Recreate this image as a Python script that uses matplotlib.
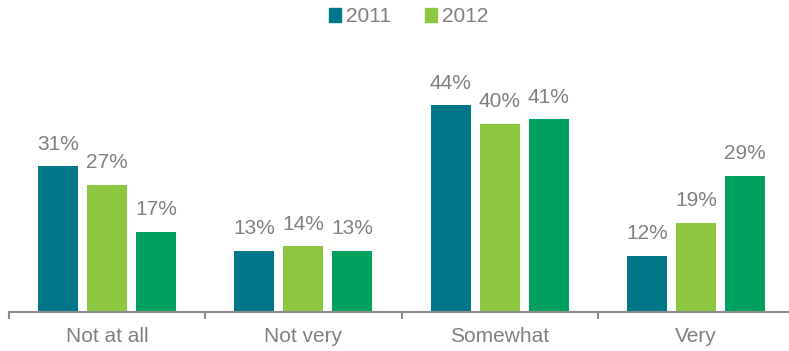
import matplotlib
matplotlib.use("Agg")
import matplotlib.pyplot as plt
from matplotlib.patches import Patch
import numpy as np

categories = ["Not at all", "Not very", "Somewhat", "Very"]
series_names = ["2011", "2012", "2013"]
values_2011 = [31, 13, 44, 12]
values_2012 = [27, 14, 40, 19]
values_2013 = [17, 13, 41, 29]
colors = ["#00788A", "#8DC63F", "#00A05F"]
legend_series = ["2011", "2012"]

plt.rcParams['font.family'] = ['Liberation Sans', 'DejaVu Sans']
fig = plt.figure(figsize=(7.89, 3.51), dpi=100)
ax = fig.add_axes([9/789, 39/351, 785/789, 235/351])

x = np.arange(len(categories))
offsets = [-0.25, 0.0, 0.25]
width = 0.204
grey = "#808080"
for vals, off, col in zip([values_2011, values_2012, values_2013], offsets, colors):
    bars = ax.bar(x + off, vals, width=width, color=col)
    for b, v in zip(bars, vals):
        ax.annotate(f"{v}%", (b.get_x() + b.get_width()/2, v), xytext=(0, 12),
                    textcoords="offset points", ha="center", va="baseline",
                    fontsize=15, color=grey)

ax.set_xlim(-0.5, 3.5)
ax.set_ylim(0, 50)
for s in ["top", "right", "left"]:
    ax.spines[s].set_visible(False)
ax.spines["bottom"].set_color("#8c8c8c")
ax.spines["bottom"].set_linewidth(1.5)
ax.set_yticks([])
ax.set_xticks(x)
ax.set_xticklabels(categories, fontsize=15, color=grey)
ax.tick_params(axis="x", which="major", length=0, pad=11)
ax.set_xticks(np.arange(-0.5, 3.6, 1.0), minor=True)
ax.tick_params(axis="x", which="minor", length=5, width=1.5, color="#8c8c8c", direction="out")

handles = [Patch(color=colors[series_names.index(n)], label=n) for n in legend_series]
fig.legend(handles=handles, loc="center", bbox_to_anchor=(0.518, 0.952), ncol=2,
           frameon=False, fontsize=15, labelcolor=grey, handlelength=0.6, handleheight=0.6,
           handletextpad=0.25, columnspacing=1.6)

fig.savefig("out.png", dpi=100)
